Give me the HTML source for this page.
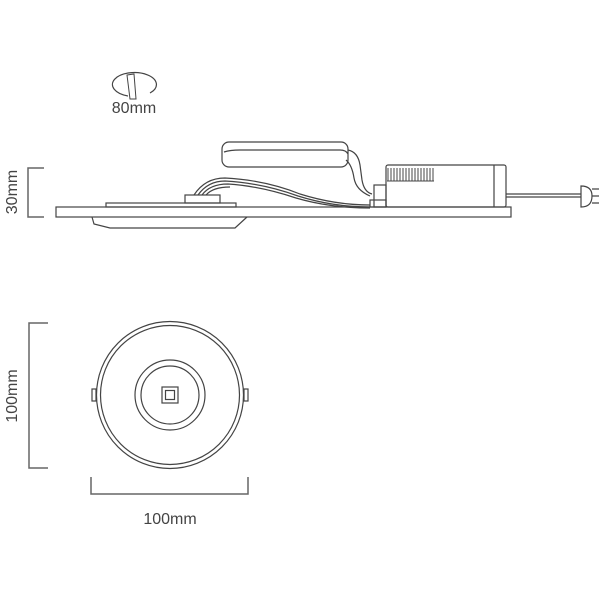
<!DOCTYPE html>
<html><head><style>body{margin:0;background:#fff}svg{display:block}text{font-family:"Liberation Sans",sans-serif;fill:#444}</style></head>
<body>
<svg width="600" height="600" viewBox="0 0 600 600" fill="none" stroke="#444" stroke-width="1.2">
<!-- 80mm icon -->
<path d="M150 93 A22 12 0 1 0 128 96" />
<path d="M127 75 L134 74 L136 99 L130 99 Z" stroke-width="1"/>
<text x="134" y="113" font-size="16" text-anchor="middle" stroke="none">80mm</text>
<!-- 30mm dim -->
<path d="M44 168 H28 V217 H44" stroke="#666" stroke-width="1.5"/>
<text x="17" y="192" font-size="16" text-anchor="middle" stroke="none" transform="rotate(-90 17 192)">30mm</text>
<!-- side view -->
<rect x="56" y="207" width="455" height="10"/>
<rect x="106" y="203" width="130" height="4"/>
<path d="M92 217 L94 224 L110 228 L235 228 L247 217"/>
<rect x="185" y="195" width="35" height="8"/>
<rect x="222" y="142" width="126" height="25" rx="7"/>
<path d="M224 152 Q230 150 240 150 H340 Q346 150 348 154"/>
<path d="M348 150 Q358 152 360 165 L362 180 Q364 192 372 194"/>
<path d="M346 160 Q352 165 354 178 Q356 190 370 196"/>
<path d="M194 195 Q205 178 225 178 Q265 180 300 194 Q335 205 370 205" />
<path d="M198 195 Q208 181 225 181 Q262 183 298 196 Q333 207 370 207"/>
<path d="M202 195 Q210 184 228 184 Q260 186 296 198 Q330 208 370 208"/>
<path d="M206 195 Q213 187 230 187"/>
<rect x="374" y="185" width="12" height="22"/>
<rect x="370" y="200" width="16" height="7"/>
<rect x="386" y="165" width="120" height="42" rx="2"/>
<line x1="494" y1="165" x2="494" y2="207"/>
<g stroke-width="1">
<path d="M388 168 V181 M391 168 V181 M394 168 V181 M397 168 V181 M400 168 V181 M403 168 V181 M406 168 V181 M409 168 V181 M412 168 V181 M415 168 V181 M418 168 V181 M421 168 V181 M424 168 V181 M427 168 V181 M430 168 V181 M433 168 V181"/>
<path d="M387 181 H434"/>
</g>
<path d="M506 194 H581 M506 197 H581"/>
<path d="M581 186 Q592 186 592 196 Q592 207 581 207 Z"/>
<path d="M592 189 H599 M592 196 H599 M592 203 H599" />
<!-- top view -->
<circle cx="170" cy="395" r="73.5"/>
<circle cx="170" cy="395" r="69.5"/>
<circle cx="170" cy="395" r="35"/>
<circle cx="170" cy="395" r="29"/>
<rect x="162" y="387" width="16" height="16"/>
<rect x="165.5" y="390.5" width="9" height="9"/>
<rect x="92" y="389" width="4" height="12"/>
<rect x="244" y="389" width="4" height="12"/>
<!-- 100mm dims -->
<path d="M48 323 H29 V468 H48" stroke="#666" stroke-width="1.5"/>
<text x="17" y="396" font-size="16" text-anchor="middle" stroke="none" transform="rotate(-90 17 396)">100mm</text>
<path d="M91 477 V494 H248 V477" stroke="#666" stroke-width="1.5"/>
<text x="170" y="524" font-size="16" text-anchor="middle" stroke="none">100mm</text>
</svg>
</body></html>
